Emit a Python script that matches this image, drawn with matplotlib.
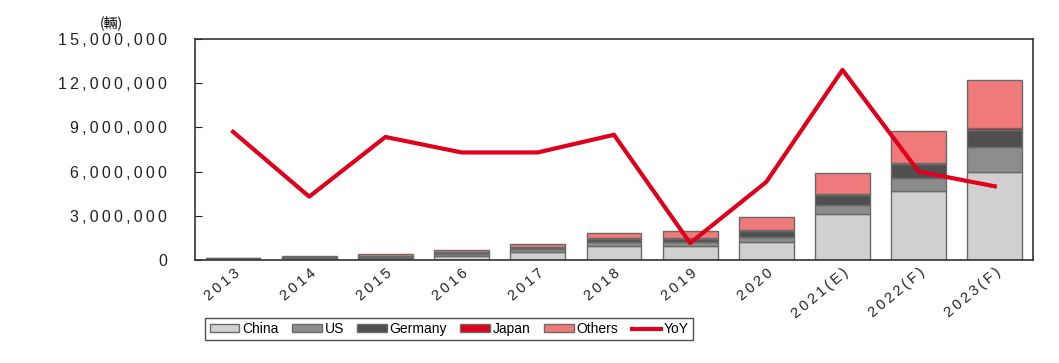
import numpy as np
import matplotlib.pyplot as plt
from matplotlib.ticker import FuncFormatter

plt.rcParams['font.family'] = ['Liberation Sans', 'DejaVu Sans']

years = ['2013', '2014', '2015', '2016', '2017', '2018', '2019', '2020',
         '2021(E)', '2022(F)', '2023(F)']
china = [0.02, 0.03, 0.08, 0.28, 0.52, 0.97, 0.97, 1.24, 3.10, 4.65, 6.00]
us = [0.02, 0.04, 0.06, 0.12, 0.20, 0.27, 0.27, 0.30, 0.66, 0.90, 1.65]
germany = [0.02, 0.04, 0.07, 0.10, 0.11, 0.18, 0.20, 0.42, 0.68, 1.00, 1.20]
japan = [0.05, 0.07, 0.09, 0.06, 0.04, 0.05, 0.04, 0.06, 0.06, 0.05, 0.08]
others = [0.05, 0.09, 0.13, 0.14, 0.22, 0.38, 0.52, 0.88, 1.43, 2.16, 3.27]
yoy = [87, 43, 83.5, 73, 73, 85, 11.5, 53, 129, 60, 50]

series = [('China', china, '#d0d0d0'),
          ('US', us, '#8c8c8c'),
          ('Germany', germany, '#4f4f4f'),
          ('Japan', japan, '#e0001b'),
          ('Others', others, '#f07a7a')]


def spaced(s):
    # letter-spaced tick labels
    return '\u2009'.join(s)


fig = plt.figure(figsize=(10.59, 3.63), dpi=100)

ax = fig.add_axes([0.1841, 0.2837, 0.7913, 0.6089])
x = np.arange(len(years))
bottom = np.zeros(len(years))
for name, vals, col in series:
    v = np.array(vals) * 1e6
    ax.bar(x, v, 0.72, bottom=bottom, color=col, edgecolor='#6a6a6a',
           linewidth=1, label=name, zorder=2)
    bottom += v

ax.set_xlim(-0.5, len(years) - 0.5)
ax.set_ylim(0, 15e6)
ax.set_yticks(np.arange(0, 15e6 + 1, 3e6))
ax.yaxis.set_major_formatter(FuncFormatter(lambda v, p: spaced(f'{int(v):,}')))
ax.tick_params(axis='y', direction='in', length=5, pad=20, labelsize=11.5, colors='#222222')
ax.tick_params(axis='x', length=0, pad=4, labelsize=10.5, colors='#222222')
ax.set_xticks(x)
ax.set_xticklabels([spaced(y) for y in years], rotation=40, ha='right',
                   rotation_mode='anchor')
for s in ax.spines.values():
    s.set_color('#333333')
    s.set_linewidth(1.2)

ax2 = ax.twinx()
ax2.plot(x, yoy, color='#e0001b', linewidth=3, label='YoY', zorder=3)
ax2.set_ylim(0, 150)
ax2.set_yticks([])
for s in ax2.spines.values():
    s.set_visible(False)

fig.text(0.105, 0.938, '(輛)', fontsize=10, ha='center', va='center',
         family=['Noto Sans CJK TC', 'DejaVu Sans'])

h1, l1 = ax.get_legend_handles_labels()
h2, l2 = ax2.get_legend_handles_labels()
leg = fig.legend(h1 + h2, l1 + l2, loc='upper left', bbox_to_anchor=(0.194, 0.124),
                 ncol=6, frameon=True, fancybox=False, fontsize=10,
                 handlelength=2.15, handleheight=0.55, handletextpad=0.2,
                 columnspacing=0.95, borderpad=0.3, borderaxespad=0)
leg.get_frame().set_edgecolor('#222222')
leg.get_frame().set_linewidth(1)

fig.savefig('out.png', dpi=100)
